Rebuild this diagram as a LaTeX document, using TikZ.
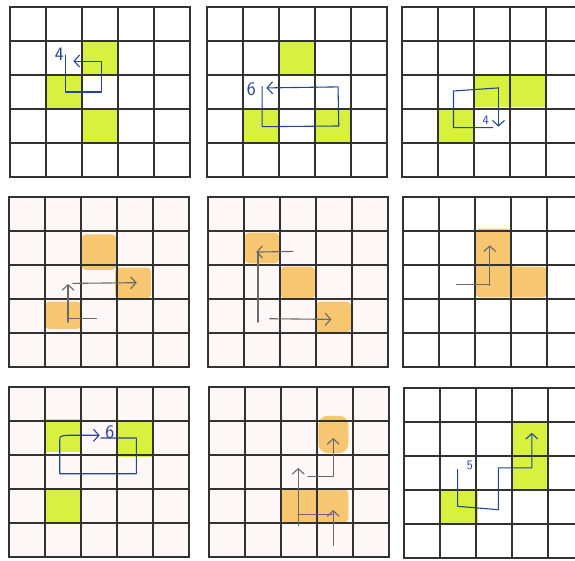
\documentclass[tikz,border=0pt]{standalone}
\usetikzlibrary{arrows.meta}
\definecolor{gridc}{RGB}{50,50,50}
\definecolor{hlgreen}{RGB}{216,240,62}
\definecolor{hlorange}{RGB}{246,198,112}
\definecolor{inkblue}{RGB}{38,68,150}
\definecolor{inkgray}{RGB}{105,105,105}
\definecolor{paperpink}{RGB}{253,247,247}
\tikzset{
  gridline/.style={gridc, line width=1.3pt, line cap=rect},
  bluepath/.style={inkblue, line width=1.1pt, line join=round, line cap=round},
  graypath/.style={inkgray, line width=1.1pt, line join=round, line cap=round},
  tipA/.style={-{Straight Barb[length=5.5pt,width=12pt]}},
  greencell/.style={fill=hlgreen},
  orangecell/.style={fill=hlorange, rounded corners=4pt},
  paper/.style={fill=paperpink},
  digit/.style={inkblue, font=\sffamily\fontsize{19}{19}\selectfont, inner sep=0pt},
  smalldigit/.style={inkblue, font=\sffamily\fontsize{13}{13}\selectfont, inner sep=0pt},
  panel/.style={x=36pt, y=-34pt},
}
\newcommand{\gridpanel}{\foreach \i in {0,...,5}{\draw[gridline] (\i,0) -- (\i,5); \draw[gridline] (0,\i) -- (5,\i);}}
\begin{document}
\begin{tikzpicture}
\fill[white] (0,0) rectangle (575pt,-561pt);
\useasboundingbox (0,0) rectangle (575pt,-561pt);

% Panel 1
\begin{scope}[shift={(10pt,-7pt)}, panel]
  \fill[greencell] (2,1) rectangle (3,2);
  \fill[greencell] (1,2) rectangle (2,3);
  \fill[greencell] (2,3) rectangle (3,4);
  \gridpanel
  \draw[bluepath,tipA] (1.53,1.42) -- (1.53,2.5) -- (2.55,2.5) -- (2.55,1.59) -- (1.76,1.59);
  \node[digit] (n1) at (1.37,1.4) {4};
\end{scope}

% Panel 2
\begin{scope}[shift={(207pt,-7pt)}, panel]
  \fill[greencell] (2,1) rectangle (3,2);
  \fill[greencell] (1,3) rectangle (2,4);
  \fill[greencell] (3,3) rectangle (4,4);
  \gridpanel
  \draw[bluepath,tipA] (1.53,2.34) -- (1.53,3.52) -- (3.66,3.5) -- (3.64,2.35) -- (1.65,2.38);
  \node[digit] (n2) at (1.23,2.41) {6};
\end{scope}

% Panel 3
\begin{scope}[shift={(402pt,-7pt)}, panel]
  \fill[greencell] (2,2) rectangle (3.97,2.95);
  \fill[greencell] (1,2.97) rectangle (2.04,4);
  \gridpanel
  \draw[bluepath] (2.52,3.55) -- (1.43,3.55) -- (1.43,2.47) -- (2.68,2.38);
  \draw[bluepath,tipA] (2.68,2.38) -- (2.68,3.52);
  \node[smalldigit] (n3) at (2.33,3.34) {4};
\end{scope}

% Panel 4
\begin{scope}[shift={(9pt,-197pt)}, panel]
  \fill[paper] (0,0) rectangle (5,5);
  \fill[orangecell] (2.02,1.1) rectangle (2.98,2.14);
  \fill[orangecell] (2.95,2.08) rectangle (3.95,2.98);
  \fill[orangecell] (1.0,3.08) rectangle (2.0,3.88);
  \gridpanel
  \draw[graypath,tipA] (1.64,3.68) -- (1.64,2.56);
  \draw[graypath,tipA] (1.77,2.54) -- (3.55,2.52);
  \draw[graypath] (1.64,3.58) -- (2.43,3.58);
\end{scope}

% Panel 5
\begin{scope}[shift={(208pt,-197pt)}, panel]
  \fill[paper] (0,0) rectangle (5,5);
  \fill[orangecell] (1.02,1.05) rectangle (1.97,1.95);
  \fill[orangecell] (2.02,2.05) rectangle (2.97,2.98);
  \fill[orangecell] (3.0,3.08) rectangle (3.97,3.98);
  \gridpanel
  \draw[graypath,tipA] (2.36,1.6) -- (1.34,1.62);
  \draw[graypath] (1.39,1.62) -- (1.39,3.68);
  \draw[graypath,tipA] (1.71,3.58) -- (3.43,3.6);
\end{scope}

% Panel 6
\begin{scope}[shift={(403pt,-197pt)}, panel]
  \fill[orangecell] (2.02,0.93) -- (3.0,0.93) -- (3.0,2.05) -- (4.0,2.05) -- (4.0,2.95) -- (2.02,2.95) -- cycle;
  \gridpanel
  \draw[graypath] (1.49,2.58) -- (2.41,2.58);
  \draw[graypath,tipA] (2.41,2.6) -- (2.41,1.42);
\end{scope}

% Panel 7
\begin{scope}[shift={(9pt,-387pt)}, panel]
  \fill[paper] (0,0) rectangle (5,5);
  \fill[greencell] (1,0.95) rectangle (2,1.92);
  \fill[greencell] (3.03,1.03) rectangle (4,2.06);
  \fill[greencell] (1,3.04) rectangle (2,3.97);
  \gridpanel
  \draw[bluepath,tipA] (2.55,1.5) -- (3.54,1.5) -- (3.54,2.55) -- (1.41,2.55) -- (1.41,1.58)
     .. controls (1.41,1.44) .. (1.65,1.42) -- (2.52,1.42);
  \node[digit] (n7) at (2.8,1.32) {6};
\end{scope}

% Panel 8
\begin{scope}[shift={(209pt,-387pt)}, panel]
  \fill[paper] (0,0) rectangle (5,5);
  \fill[hlorange, rounded corners=9pt] (3.04,0.85) rectangle (3.87,1.94);
  \fill[orangecell] (2.0,3.01) rectangle (3.87,3.98);
  \gridpanel
  \draw[graypath,tipA] (3.45,4.66) -- (3.45,3.62);
  \draw[graypath] (3.45,3.74) -- (2.48,3.74);
  \draw[graypath,tipA] (2.48,4.08) -- (2.48,2.38);
  \draw[graypath,tipA] (2.75,2.62) -- (3.45,2.62) -- (3.45,1.5);
\end{scope}

% Panel 9
\begin{scope}[shift={(404pt,-388pt)}, panel]
  \fill[greencell] (3.03,0.98) rectangle (3.96,2.99);
  \fill[greencell] (1.04,3.04) rectangle (2.06,3.97);
  \gridpanel
  \draw[bluepath,tipA] (1.49,2.4) -- (1.49,3.48) -- (2.62,3.58) -- (2.62,2.35) -- (3.55,2.35) -- (3.55,1.32);
  \node[smalldigit] (n9) at (1.83,2.28) {5};
\end{scope}
\end{tikzpicture}
\end{document}
